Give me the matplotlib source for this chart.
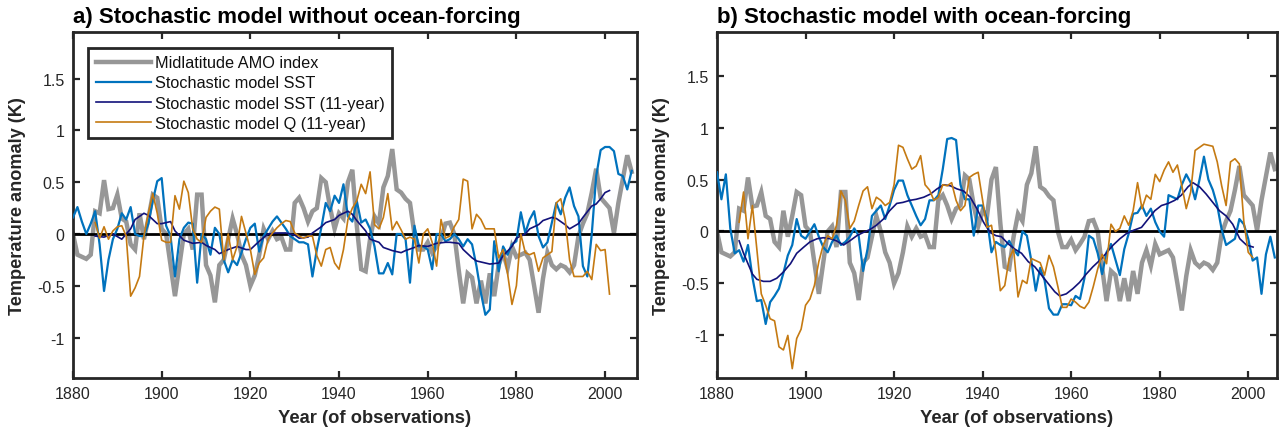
import numpy as np
import matplotlib
matplotlib.use("Agg")
import matplotlib.pyplot as plt
from matplotlib.ticker import FuncFormatter

plt.rcParams['font.family'] = ['Liberation Sans', 'DejaVu Sans']
plt.rcParams['axes.unicode_minus'] = False

# ---------------- data ----------------
years = np.arange(1880, 2007)
years_q = np.arange(1885, 2002)

amo = [0.0, -0.2, -0.22, -0.24, -0.2, 0.22, 0.2, 0.52, 0.24, 0.25,
       0.38, 0.15, 0.12, -0.1, -0.15, 0.2, -0.05, 0.15, 0.38, 0.35,
       0.05, 0.0, -0.3, -0.6, -0.3, 0.0, 0.05, -0.15, 0.38, 0.38,
       -0.3, -0.4, -0.66, -0.3, -0.25, -0.05, 0.15, 0.0, -0.2, -0.3,
       -0.5, -0.4, -0.2, 0.05, -0.05, 0.03, -0.05, -0.03, -0.15, -0.15,
       0.3, 0.35, 0.25, 0.12, 0.22, 0.25, 0.54, 0.5, 0.25, 0.05,
       0.2, 0.15, 0.5, 0.62, 0.08, -0.34, -0.36, -0.05, 0.17, 0.1,
       0.45, 0.56, 0.82, 0.43, 0.4, 0.34, 0.3, 0.0, -0.15, -0.15,
       -0.08, -0.18, -0.12, -0.05, 0.1, 0.11, 0.0, -0.35, -0.67, -0.38,
       -0.42, -0.67, -0.45, -0.67, -0.38, -0.6, -0.3, -0.18, -0.33, -0.12,
       -0.22, -0.2, -0.18, -0.25, -0.5, -0.76, -0.43, -0.18, -0.3, -0.34,
       -0.3, -0.32, -0.37, -0.3, -0.02, 0.1, 0.2, 0.4, 0.63, 0.35,
       0.3, 0.25, 0.01, 0.3, 0.53, 0.76, 0.6]

sst_a = [0.16, 0.26, 0.12, 0.0, 0.1, 0.22, -0.1, -0.55, -0.25, -0.05,
         0.05, 0.2, 0.14, 0.26, 0.0, -0.02, -0.02, 0.1, 0.32, 0.51,
         0.54, 0.08, -0.02, -0.41, -0.05, 0.06, 0.11, 0.1, -0.47, 0.0,
         -0.05, -0.2, 0.06, 0.0, -0.25, -0.37, -0.25, -0.3, -0.18, -0.05,
         0.06, 0.1, -0.17, -0.02, 0.05, 0.12, 0.17, 0.11, 0.05, -0.02,
         -0.05, -0.08, -0.08, -0.1, -0.41, -0.15, 0.06, 0.3, 0.22, 0.37,
         0.3, 0.48, 0.17, 0.12, 0.32, 0.11, 0.14, 0.05, -0.12, -0.38,
         -0.38, -0.28, -0.39, 0.0, 0.0, -0.05, -0.47, 0.08, -0.12, -0.12,
         -0.15, -0.34, 0.0, 0.0, -0.07, -0.05, 0.0, -0.05, -0.12, -0.05,
         -0.1, -0.31, -0.57, -0.78, -0.73, -0.07, -0.36, -0.12, -0.2, -0.1,
         -0.07, 0.21, 0.01, 0.14, 0.22, -0.02, -0.13, -0.08, 0.11, 0.3,
         0.19, 0.35, 0.45, 0.27, 0.17, -0.31, -0.41, 0.0, 0.56, 0.81,
         0.84, 0.84, 0.8, 0.58, 0.56, 0.43, 0.61]

q_a = [0.11, -0.04, 0.07, -0.05, 0.03, 0.07, 0.08, -0.02, -0.6, -0.52,
       -0.41, -0.02, 0.2, 0.39, 0.2, -0.06, -0.08, -0.08, 0.37, 0.24,
       0.51, 0.4, 0.05, -0.05, -0.08, 0.16, 0.22, 0.26, 0.24, -0.25,
       0.0, -0.25, -0.12, 0.17, 0.01, -0.15, -0.39, -0.28, -0.23, -0.05,
       0.01, 0.06, 0.1, 0.13, 0.12, 0.01, -0.02, -0.04, -0.02, -0.02,
       -0.21, -0.31, -0.15, -0.13, -0.28, -0.34, -0.15, 0.14, 0.25, 0.32,
       0.48, 0.39, 0.6, 0.09, 0.05, 0.16, 0.39, 0.04, 0.12, 0.04,
       -0.05, -0.03, -0.05, -0.28, 0.0, 0.05, -0.08, -0.31, 0.14, -0.04,
       -0.02, 0.07, 0.14, 0.53, 0.51, 0.05, 0.19, 0.14, 0.05, 0.05,
       0.05, -0.23, -0.15, -0.38, -0.68, -0.5, 0.0, -0.18, -0.2, -0.18,
       -0.36, -0.23, -0.2, -0.17, 0.3, 0.34, 0.14, -0.25, -0.41, -0.41,
       -0.41, -0.36, -0.44, -0.1, -0.16, -0.15, -0.58]

sm_a_years = [1885, 1887, 1889, 1891, 1893, 1894, 1896, 1897, 1899, 1900,
              1902, 1903, 1905, 1907, 1909, 1910, 1912, 1913, 1915, 1917,
              1919, 1920, 1922, 1924, 1926, 1928, 1930, 1931, 1933, 1934,
              1936, 1937, 1939, 1940, 1942, 1943, 1944, 1946, 1947, 1949,
              1950, 1952, 1954, 1955, 1957, 1958, 1960, 1962, 1964, 1965,
              1967, 1968, 1970, 1971, 1973, 1974, 1976, 1977, 1979, 1980,
              1982, 1983, 1985, 1986, 1988, 1989, 1991, 1992, 1994, 1995,
              1997, 1998, 1999, 2000, 2001]
sm_a = [-0.02, -0.03, 0.0, -0.05, 0.05, 0.14, 0.2, 0.18, 0.1, 0.1,
        0.12, 0.03, -0.06, -0.09, -0.08, -0.11, -0.15, -0.19, -0.15, -0.12,
        -0.15, -0.15, -0.07, 0.0, 0.01, 0.01, -0.01, -0.04, -0.03, 0.01,
        0.07, 0.11, 0.14, 0.18, 0.22, 0.19, 0.13, 0.03, -0.05, -0.08,
        -0.13, -0.16, -0.18, -0.16, -0.13, -0.11, -0.12, -0.09, -0.08, -0.08,
        -0.09, -0.15, -0.23, -0.26, -0.28, -0.29, -0.28, -0.21, -0.12, -0.04,
        0.0, 0.05, 0.09, 0.13, 0.16, 0.15, 0.09, 0.05, 0.1, 0.16,
        0.27, 0.29, 0.34, 0.4, 0.42]

sst_b = [0.57, 0.31, 0.55, 0.03, -0.21, -0.18, -0.29, -0.13, -0.44, -0.67,
         -0.66, -0.89, -0.68, -0.62, -0.55, -0.4, -0.23, -0.13, 0.12, -0.04,
         -0.07, 0.0, 0.07, -0.05, -0.15, -0.2, -0.1, -0.04, -0.13, -0.1,
         -0.05, 0.03, -0.04, -0.38, -0.17, 0.15, 0.2, 0.25, 0.12, 0.25,
         0.4, 0.49, 0.49, 0.35, 0.25, 0.15, 0.06, 0.12, 0.3, 0.3,
         0.35, 0.6, 0.89, 0.9, 0.88, 0.45, 0.31, 0.31, -0.04, 0.25,
         0.25, 0.12, -0.2, -0.1, -0.13, -0.15, -0.09, -0.17, -0.23, 0.0,
         -0.04, -0.28, -0.57, -0.35, -0.47, -0.74, -0.8, -0.8, -0.7, -0.7,
         -0.71, -0.62, -0.65, -0.45, -0.04, -0.07, -0.21, -0.41, -0.2, -0.12,
         -0.27, -0.42, -0.17, -0.02, 0.17, 0.18, 0.25, 0.15, 0.22, 0.09,
         0.0, -0.05, 0.35, 0.33, 0.31, 0.45, 0.55, 0.47, 0.31, 0.5,
         0.72, 0.5, 0.4, 0.25, 0.02, -0.13, -0.1, -0.07, 0.12, 0.07,
         -0.07, -0.28, -0.25, -0.6, -0.22, -0.05, -0.25]

q_b = [0.09, 0.38, -0.07, 0.25, -0.17, -0.6, -0.71, -0.84, -0.86, -1.11,
       -1.14, -1.0, -1.32, -1.03, -0.94, -0.71, -0.65, -0.52, -0.29, -0.13,
       -0.04, -0.07, 0.06, 0.39, 0.3, 0.03, 0.1, 0.25, 0.39, 0.43,
       0.22, 0.33, 0.3, 0.25, 0.28, 0.45, 0.83, 0.81, 0.7, 0.6,
       0.63, 0.73, 0.45, 0.4, 0.3, 0.33, 0.45, 0.44, 0.47, 0.3,
       0.2, 0.25, 0.52, 0.55, 0.57, 0.3, 0.04, 0.06, -0.2, -0.57,
       -0.52, -0.26, -0.17, -0.63, -0.47, -0.5, -0.26, -0.28, -0.3, -0.42,
       -0.23, -0.34, -0.53, -0.73, -0.73, -0.65, -0.68, -0.72, -0.74, -0.68,
       -0.53, -0.36, -0.22, -0.31, 0.07, 0.0, 0.03, 0.15, 0.06, 0.2,
       0.47, 0.22, 0.35, 0.31, 0.55, 0.48, 0.59, 0.67, 0.57, 0.64,
       0.44, 0.22, 0.38, 0.78, 0.81, 0.84, 0.83, 0.82, 0.67, 0.44,
       0.25, 0.67, 0.7, 0.65, 0.1, -0.2, -0.25]

sm_b_years = [1885, 1886, 1887, 1888, 1889, 1890.5, 1892, 1893.5, 1895, 1896.6,
              1898, 1899.6, 1901, 1902.6, 1904, 1905.6, 1907, 1908.6, 1910, 1911.6,
              1913, 1914.6, 1916, 1917.6, 1919, 1920.6, 1922, 1923.6, 1925, 1926.7,
              1928.2, 1929.7, 1931.2, 1932.7, 1934.2, 1935.7, 1937.2, 1938.7, 1940.2, 1941.7,
              1943, 1944.25, 1945.8, 1947.3, 1948.8, 1950.3, 1951.8, 1953.3, 1954.8, 1956.3,
              1957.4, 1958.9, 1960.4, 1961.9, 1963.4, 1964.9, 1966.4, 1967.9, 1969.5, 1971,
              1972.5, 1974, 1975.9, 1977.4, 1978.9, 1980.4, 1981.9, 1983.4, 1984.9, 1986.4,
              1987.5, 1989, 1990.5, 1992, 1993.5, 1995, 1996.5, 1998.1, 1999.6, 2001.1]
sm_b = [-0.09, -0.21, -0.31, -0.41, -0.46, -0.48, -0.48, -0.45, -0.39, -0.31,
        -0.21, -0.15, -0.1, -0.07, -0.06, -0.07, -0.09, -0.13, -0.09, -0.04,
        -0.01, 0.02, 0.06, 0.12, 0.2, 0.27, 0.28, 0.3, 0.31, 0.33,
        0.36, 0.41, 0.45, 0.44, 0.41, 0.39, 0.33, 0.22, 0.09, -0.01,
        -0.04, -0.05, -0.12, -0.17, -0.21, -0.29, -0.34, -0.42, -0.5, -0.58,
        -0.62, -0.6, -0.55, -0.49, -0.41, -0.34, -0.28, -0.21, -0.13, -0.07,
        -0.02, 0.01, 0.04, 0.12, 0.2, 0.25, 0.27, 0.3, 0.35, 0.43,
        0.47, 0.43, 0.36, 0.28, 0.2, 0.15, 0.07, -0.07, -0.13, -0.15]

titles = ["a) Stochastic model without ocean-forcing",
          "b) Stochastic model with ocean-forcing"]
labels = ["Midlatitude AMO index", "Stochastic model SST",
          "Stochastic model SST (11-year)", "Stochastic model Q (11-year)"]
xticks = [1880, 1900, 1920, 1940, 1960, 1980, 2000]
yticks = [-1, -0.5, 0, 0.5, 1, 1.5]

# ---------------- style ----------------
C_GRAY = '#979797'
C_BLUE = '#0072BD'
C_NAVY = '#12127A'
C_ORANGE = '#C57A12'
C_AX = '#262626'

fig = plt.figure(figsize=(12.83, 4.35), dpi=100)
axa = fig.add_axes([73/1283, 56/435, 564/1283, 346/435])
axb = fig.add_axes([717/1283, 56/435, 560/1283, 346/435])

panels = [(axa, sst_a, sm_a_years, sm_a, q_a, (1880, 2007.2), (-1.39, 1.95)),
          (axb, sst_b, sm_b_years, sm_b, q_b, (1880, 2006.5), (-1.41, 1.92))]

for i, (ax, sst, smy, sm, q, xl, yl) in enumerate(panels):
    ax.axhline(0, color='black', lw=2.0, zorder=2)
    h1, = ax.plot(years, amo, color=C_GRAY, lw=3.2, zorder=1, solid_joinstyle='miter')
    h2, = ax.plot(years, sst, color=C_BLUE, lw=1.6, zorder=3)
    h3, = ax.plot(smy, sm, color=C_NAVY, lw=1.2, zorder=4)
    h4, = ax.plot(years_q, q, color=C_ORANGE, lw=1.2, zorder=5)
    ax.set_xlim(*xl)
    ax.set_ylim(*yl)
    ax.set_xticks(xticks)
    ax.set_yticks(yticks)
    ax.yaxis.set_major_formatter(FuncFormatter(lambda v, p: '%g' % v))
    ax.tick_params(direction='in', length=5, width=1.6, top=True, right=True,
                   labelsize=11.5, colors=C_AX, pad=6)
    for sp in ax.spines.values():
        sp.set_linewidth(2.0)
        sp.set_color(C_AX)
    ax.set_title(titles[i], loc='left', fontsize=16, fontweight='bold', pad=7)
    ax.set_xlabel("Year (of observations)", fontsize=13.2, fontweight='bold',
                  color=C_AX, labelpad=5)
    ax.xaxis.set_label_coords(0.535, -0.09)
    ax.set_ylabel("Temperature anomaly (K)", fontsize=13.1, fontweight='bold',
                  color=C_AX, labelpad=8)
    if i == 0:
        leg = ax.legend([h1, h2, h3, h4], labels, loc='upper left',
                        bbox_to_anchor=(0.027, 0.954), borderaxespad=0,
                        fontsize=11.7, handlelength=3.4, handletextpad=0.25,
                        labelspacing=0.32, borderpad=0.45, fancybox=False,
                        framealpha=1, edgecolor=C_AX)
        leg.get_frame().set_linewidth(2.0)
        for t in leg.get_texts():
            t.set_color('#111111')

fig.savefig('out.png', dpi=100)
